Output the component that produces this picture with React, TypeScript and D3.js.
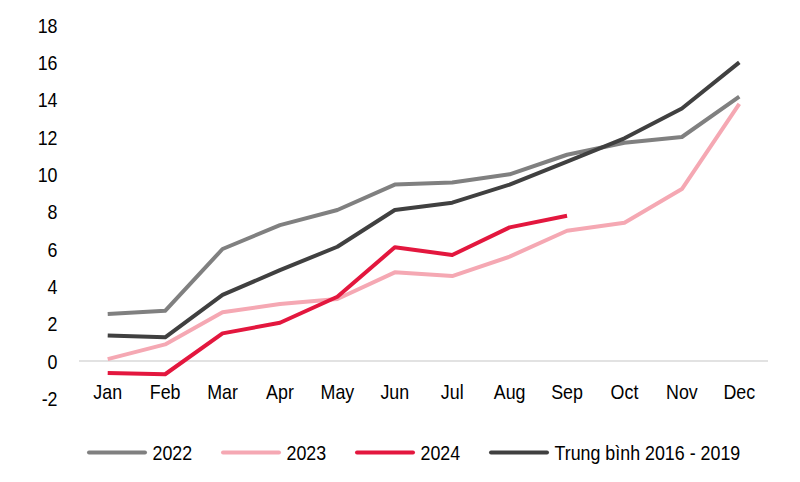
import React from 'react';
import * as d3 from 'd3';

const months = ['Jan', 'Feb', 'Mar', 'Apr', 'May', 'Jun', 'Jul', 'Aug', 'Sep', 'Oct', 'Nov', 'Dec'];
const yTicks = [-2, 0, 2, 4, 6, 8, 10, 12, 14, 16, 18];

const s2022 = [2.52, 2.69, 6.0, 7.28, 8.09, 9.45, 9.56, 10.0, 11.05, 11.69, 12.0, 14.16];
const s2023 = [0.1, 0.89, 2.61, 3.05, 3.32, 4.75, 4.55, 5.59, 6.98, 7.41, 9.21, 13.77];
const s2024 = [-0.64, -0.71, 1.48, 2.05, 3.44, 6.09, 5.68, 7.16, 7.78];
const sAvg = [1.36, 1.27, 3.54, 4.87, 6.12, 8.09, 8.48, 9.45, 10.68, 11.93, 13.53, 16.0];

const seriesNames = ['2022', '2023', '2024', 'Trung bình 2016 - 2019'];
const seriesColors = ['#808080', '#f5a8b3', '#e3173e', '#404040'];
const seriesData = [s2022, s2023, s2024, sAvg];

const width = 800;
const height = 482;
const font = '"Liberation Sans", Arial, sans-serif';
const fs = 21;
const sx = 0.85;

// condensed text: squeeze horizontally around its anchor point
const Label = ({ x, y, anchor = 'start', baseline, children }: any) => (
  <text
    transform={`translate(${x},${y}) scale(${sx},1)`}
    textAnchor={anchor}
    dominantBaseline={baseline}
    fontSize={fs}
    fill="#000"
  >
    {children}
  </text>
);

export default function App() {
  const x = d3.scaleBand<string>().domain(months).range([79, 768]);
  const y = d3.scaleLinear().domain([0, 18]).range([361, 25]);
  const cx = (m: string) => (x(m) ?? 0) + x.bandwidth() / 2;

  const line = d3
    .line<number>()
    .x((_, i) => cx(months[i]))
    .y(d => y(d));

  return (
    <svg
      width={width}
      height={height}
      style={{ position: 'absolute', left: 0, top: 0, background: '#fff' }}
      fontFamily={font}
    >
      <line x1={79} x2={768} y1={y(0)} y2={y(0)} stroke="#d9d9d9" strokeWidth={1.5} />

      {yTicks.map(t => (
        <Label key={t} x={57.5} y={y(t)} anchor="end" baseline="central">
          {t}
        </Label>
      ))}

      {months.map(m => (
        <Label key={m} x={cx(m)} y={398.5} anchor="middle">
          {m}
        </Label>
      ))}

      {seriesData.map((d, i) => (
        <path
          key={seriesNames[i]}
          d={line(d) ?? ''}
          fill="none"
          stroke={seriesColors[i]}
          strokeWidth={4}
          strokeLinejoin="round"
        />
      ))}

      {seriesNames.map((n, i) => {
        const x0 = 89 + i * 134;
        return (
          <g key={n}>
            <line x1={x0} x2={x0 + 56} y1={452.5} y2={452.5} stroke={seriesColors[i]} strokeWidth={4} strokeLinecap="round" />
            <Label x={x0 + 63.5} y={460}>
              {n}
            </Label>
          </g>
        );
      })}
    </svg>
  );
}
